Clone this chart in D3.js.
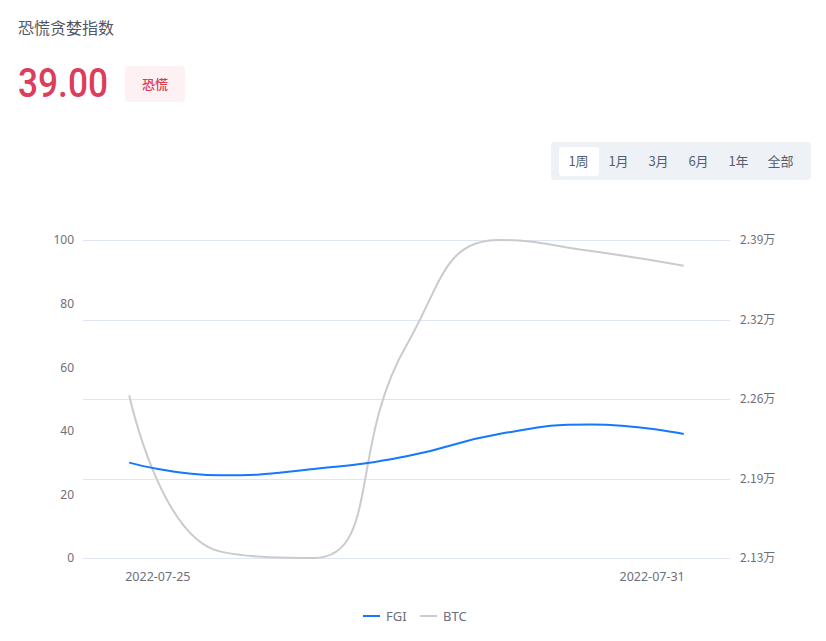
<!DOCTYPE html>
<html>
<head>
<meta charset="utf-8">
<script src="https://cdn.jsdelivr.net/npm/d3@7"></script>
<style>
  html, body { margin: 0; padding: 0; background: #fff; }
  svg { display: block; font-family: Roboto, "Noto Sans CJK SC", sans-serif; }
</style>
</head>
<body>
<svg id="chart" width="826" height="641"></svg>
<script>
// ---- data ----
const dates = ["2022-07-25","2022-07-26","2022-07-27","2022-07-28","2022-07-29","2022-07-30","2022-07-31"];
const fgiValues = [30, 26, 28, 32, 39, 42, 39];
const btcValues = [22630, 21350, 21300, 23040, 23900, 23810, 23690];
const fgiTicks = [0, 20, 40, 60, 80, 100];
const btcTicks = [21300, 21950, 22600, 23250, 23900];
const btcTickLabels = ["2.13万", "2.19万", "2.26万", "2.32万", "2.39万"];
const rangeButtons = ["1周", "1月", "3月", "6月", "1年", "全部"];
const legendItems = ["FGI", "BTC"];
const currentValue = "39.00";
const currentLabel = "恐慌";
const chartTitle = "恐慌贪婪指数";

(function () {
const svg = d3.select("#chart");
const gLeft = 83, gRight = 730, gTop = 240, gBottom = 558;
const colors = { FGI: "#1677ff", BTC: "#cbcbcf" };

// header
svg.append("text").attr("x", 18).attr("y", 34)
  .attr("font-family", "'Noto Sans CJK SC', sans-serif").attr("font-size", 16)
  .attr("fill", "#4e5868").text(chartTitle);

svg.append("text").attr("x", 18).attr("y", 97)
  .attr("font-family", "Roboto, sans-serif").attr("font-size", 40).attr("font-weight", 500)
  .attr("textLength", 90).attr("lengthAdjust", "spacingAndGlyphs")
  .attr("fill", "#dc3d5b").text(currentValue);

svg.append("rect").attr("x", 125).attr("y", 66).attr("width", 60).attr("height", 36)
  .attr("rx", 4).attr("fill", "#fdf1f3");
svg.append("text").attr("x", 155).attr("y", 89).attr("text-anchor", "middle")
  .attr("font-family", "'Noto Sans CJK SC', sans-serif").attr("font-size", 13)
  .attr("font-weight", 500).attr("fill", "#d83a56").text(currentLabel);

// range buttons
svg.append("rect").attr("x", 551).attr("y", 142).attr("width", 260).attr("height", 38)
  .attr("rx", 4).attr("fill", "#eef1f5");
svg.append("rect").attr("x", 559).attr("y", 147).attr("width", 40).attr("height", 29)
  .attr("rx", 3).attr("fill", "#ffffff");
const btnCenters = [578.5, 618.5, 658.5, 698.5, 738.5, 780.5];
rangeButtons.forEach((b, i) => {
  svg.append("text").attr("x", btnCenters[i]).attr("y", 166).attr("text-anchor", "middle")
    .attr("font-family", "'Noto Sans CJK SC', sans-serif").attr("font-size", 13)
    .attr("fill", "#555e6e").text(b);
});

// scales
const x = d3.scalePoint().domain(dates).range([gLeft, gRight]).padding(0.5);
const yL = d3.scaleLinear().domain([0, 100]).range([gBottom, gTop]);
const yR = d3.scaleLinear().domain([btcTicks[0], btcTicks[btcTicks.length - 1]]).range([gBottom, gTop]);

// grid lines
const gridYs = [0, 25, 50, 75, 100];
svg.append("g").selectAll("line").data(gridYs).join("line")
  .attr("x1", gLeft).attr("x2", gRight)
  .attr("y1", d => Math.round(yL(d)) + 0.5).attr("y2", d => Math.round(yL(d)) + 0.5)
  .attr("stroke", "#e0e6f1").attr("stroke-width", 1);

// left axis
const leftAxis = d3.axisLeft(yL).tickValues(fgiTicks).tickSize(0).tickPadding(9);
const gl = svg.append("g").attr("transform", `translate(${gLeft},0)`).call(leftAxis);
gl.select(".domain").remove();
gl.selectAll("text").attr("font-size", 12).attr("fill", "#6e7079")
  .attr("font-family", "'Noto Sans', sans-serif");

// right axis
const rightAxis = d3.axisRight(yR).tickValues(btcTicks).tickSize(0).tickPadding(10)
  .tickFormat((d, i) => btcTickLabels[i]);
const gr = svg.append("g").attr("transform", `translate(${gRight},0)`).call(rightAxis);
gr.select(".domain").remove();
gr.selectAll("text").attr("font-size", 12).attr("fill", "#6e7079")
  .attr("font-family", "'Noto Sans CJK SC', sans-serif");

// x axis labels
const xl = svg.append("g");
xl.append("text").attr("x", x(dates[0]) - 4).attr("y", 581)
  .attr("font-size", 12.5).attr("fill", "#6e7079").attr("font-family", "'Noto Sans', sans-serif")
  .text(dates[0]);
xl.append("text").attr("x", x(dates[dates.length - 1]) + 1).attr("y", 581).attr("text-anchor", "end")
  .attr("font-size", 12.5).attr("fill", "#6e7079").attr("font-family", "'Noto Sans', sans-serif")
  .text(dates[dates.length - 1]);

// ECharts-style smooth path (smooth = 0.5, with control-point clamping)
function smoothPath(pts, smooth) {
  const p = d3.path();
  p.moveTo(pts[0][0], pts[0][1]);
  let pcx = pts[0][0], pcy = pts[0][1];
  const clamp = (v, a, b) => Math.max(Math.min(a, b), Math.min(Math.max(a, b), v));
  for (let k = 1; k < pts.length; k++) {
    const [x0, y0] = pts[k];
    let cx0, cy0, cx1, cy1;
    if (k === pts.length - 1) {
      cx0 = x0; cy0 = y0; cx1 = x0; cy1 = y0;
    } else {
      const [px, py] = pts[k - 1];
      const [nx, ny] = pts[k + 1];
      let vx = nx - px, vy = ny - py;
      const lp = Math.hypot(x0 - px, y0 - py);
      const ln = Math.hypot(nx - x0, ny - y0);
      const r = ln / (ln + lp);
      cx1 = x0 + vx * smooth * r; cy1 = y0 + vy * smooth * r;
      cx1 = clamp(cx1, nx, x0); cy1 = clamp(cy1, ny, y0);
      vx = cx1 - x0; vy = cy1 - y0;
      cx0 = x0 - vx * lp / ln; cy0 = y0 - vy * lp / ln;
      cx0 = clamp(cx0, px, x0); cy0 = clamp(cy0, py, y0);
      vx = x0 - cx0; vy = y0 - cy0;
      cx1 = x0 + vx * ln / lp; cy1 = y0 + vy * ln / lp;
    }
    p.bezierCurveTo(pcx, pcy, cx0, cy0, x0, y0);
    pcx = cx1; pcy = cy1;
  }
  return p.toString();
}

const btcPts = btcValues.map((v, i) => [x(dates[i]), yR(v)]);
const fgiPts = fgiValues.map((v, i) => [x(dates[i]), yL(v)]);

svg.append("path").attr("d", smoothPath(btcPts, 0.5)).attr("fill", "none")
  .attr("stroke", colors.BTC).attr("stroke-width", 2);
svg.append("path").attr("d", smoothPath(fgiPts, 0.5)).attr("fill", "none")
  .attr("stroke", colors.FGI).attr("stroke-width", 2);

// legend
const lg = svg.append("g").attr("font-family", "'Noto Sans', sans-serif");
const legendX = [363, 420];
legendItems.forEach((name, i) => {
  lg.append("line").attr("x1", legendX[i]).attr("x2", legendX[i] + 17)
    .attr("y1", 616).attr("y2", 616).attr("stroke", colors[name]).attr("stroke-width", 2);
  lg.append("text").attr("x", legendX[i] + 23).attr("y", 621)
    .attr("font-size", 13).attr("fill", "#6e7079").text(name);
});
})();
</script>
</body>
</html>
